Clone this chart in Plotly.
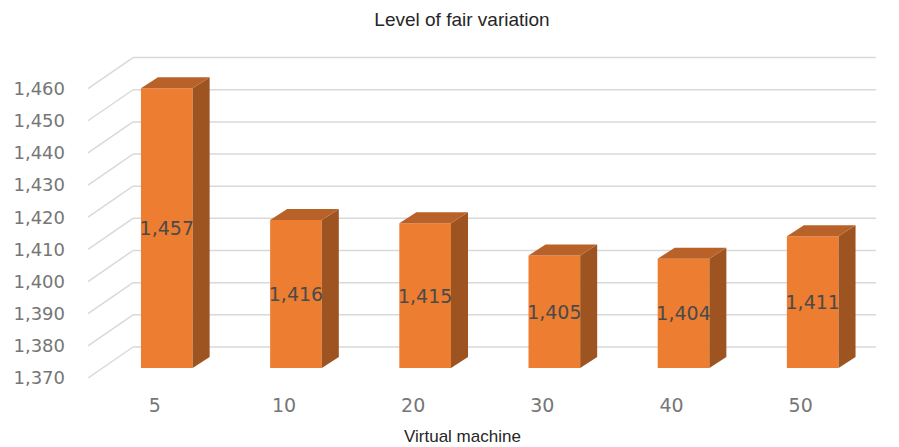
import plotly.graph_objects as go

categories = ["5", "10", "20", "30", "40", "50"]
values = [1457, 1416, 1415, 1405, 1404, 1411]
y_ticks = [1370, 1380, 1390, 1400, 1410, 1420, 1430, 1440, 1450, 1460]

# ---- layout geometry (pixels) ----
W, H = 899, 447
ml, mr, mt, mb = 88, 23, 50, 69
plot_w = W - ml - mr
plot_h = H - mt - mb
y_min, y_max = 1370, 1472
px_per_unit_y = plot_h / (y_max - y_min)
x_min, x_max = -0.61, 5.49
px_per_unit_x = plot_w / (x_max - x_min)

bar_w = 0.40
# bar depth offset (3D look)
bar_dx = 17 / px_per_unit_x
bar_dy = 11 / px_per_unit_y
# bars sit slightly back from the front plane
bar_shift = 10 / px_per_unit_y
# wall depth
wall_dx_paper = 45 / plot_w
wall_dy = 31 / px_per_unit_y

front = "#ED7D31"
side = "#9E5420"
top = "#B8622A"
grid = "#D9D9D9"

xs = list(range(len(categories)))
base = y_min + bar_shift

fig = go.Figure()
fig.add_trace(go.Bar(
    x=xs,
    y=[v - y_min for v in values],
    base=[base] * len(values),
    width=bar_w,
    marker=dict(color=front, line=dict(width=0)),
    text=[f"{v:,}" for v in values],
    textposition="inside",
    insidetextanchor="middle",
    textangle=0,
    constraintext="none",
    textfont=dict(family="DejaVu Sans", size=19, color="#4a4a4a"),
    cliponaxis=False,
    hovertemplate="%{text}<extra></extra>",
))

shapes = []
# back wall gridlines and left wall diagonals
for v in y_ticks:
    yb = v + wall_dy
    shapes.append(dict(type="line", xref="paper", yref="y", x0=wall_dx_paper, x1=1,
                       y0=yb, y1=yb, line=dict(color=grid, width=1.5), layer="below"))
    shapes.append(dict(type="line", xref="paper", yref="y", x0=0, x1=wall_dx_paper,
                       y0=v, y1=yb, line=dict(color=grid, width=1.5), layer="below"))

# 3D side and top faces
for x, v in zip(xs, values):
    x0 = x - bar_w / 2
    x1 = x + bar_w / 2
    t = v + bar_shift
    b = base
    side_path = (f"M {x1},{b} L {x1 + bar_dx},{b + bar_dy} "
                 f"L {x1 + bar_dx},{t + bar_dy} L {x1},{t} Z")
    top_path = (f"M {x0},{t} L {x0 + bar_dx},{t + bar_dy} "
                f"L {x1 + bar_dx},{t + bar_dy} L {x1},{t} Z")
    shapes.append(dict(type="path", xref="x", yref="y", path=side_path,
                       fillcolor=side, line=dict(width=0), layer="above"))
    shapes.append(dict(type="path", xref="x", yref="y", path=top_path,
                       fillcolor=top, line=dict(width=0), layer="above"))

label_shift = 12 / px_per_unit_x

fig.update_layout(
    width=W, height=H,
    margin=dict(l=ml, r=mr, t=mt, b=mb),
    paper_bgcolor="white",
    plot_bgcolor="white",
    showlegend=False,
    shapes=shapes,
    title=dict(text="Level of fair variation", x=(462 - ml) / plot_w, xref="paper",
               xanchor="center", y=1 - 19 / H, yanchor="middle",
               font=dict(family="Liberation Sans", size=19, color="#262626")),
    xaxis=dict(range=[x_min, x_max], tickvals=[x - label_shift for x in xs],
               ticktext=categories, showgrid=False, zeroline=False, showline=False,
               ticks="", ticklabelstandoff=14,
               tickfont=dict(family="DejaVu Sans", size=19, color="#767676")),
    yaxis=dict(range=[y_min, y_max], tickvals=y_ticks, tickformat=",",
               showgrid=False, zeroline=False, showline=False, ticks="",
               ticklabelstandoff=22,
               tickfont=dict(family="DejaVu Sans", size=18, color="#767676")),
    annotations=[dict(text="Virtual machine", xref="paper", yref="paper",
                      x=(462 - ml) / plot_w, y=-(436 - (H - mb)) / plot_h,
                      xanchor="center", yanchor="middle", showarrow=False,
                      font=dict(family="Liberation Sans", size=17, color="#262626"))],
)

fig.write_html("out.html", config={"displayModeBar": False},
               post_script="document.body.style.margin='0';")
